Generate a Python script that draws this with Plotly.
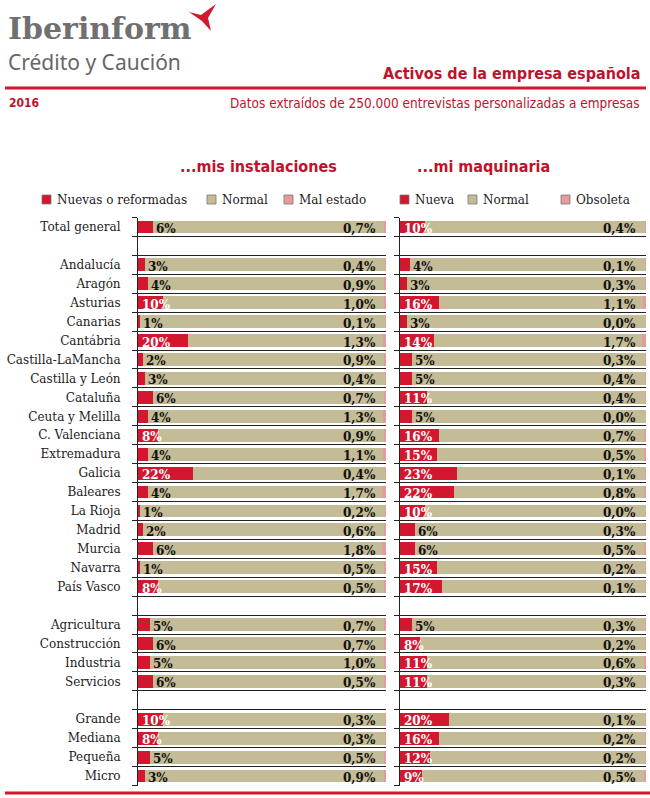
import plotly.graph_objects as go

# ---------------- data ----------------
rows = ["Total general", "",
        "Andalucía", "Aragón", "Asturias", "Canarias", "Cantábria", "Castilla-LaMancha",
        "Castilla y León", "Cataluña", "Ceuta y Melilla", "C. Valenciana", "Extremadura",
        "Galicia", "Baleares", "La Rioja", "Madrid", "Murcia", "Navarra", "País Vasco", "",
        "Agricultura", "Construcción", "Industria", "Servicios", "",
        "Grande", "Mediana", "Pequeña", "Micro"]

inst_nuevas = [6, None,
               3, 4, 10, 1, 20, 2, 3, 6, 4, 8, 4, 22, 4, 1, 2, 6, 1, 8, None,
               5, 6, 5, 6, None,
               10, 8, 5, 3]
inst_mal = [0.7, None,
            0.4, 0.9, 1.0, 0.1, 1.3, 0.9, 0.4, 0.7, 1.3, 0.9, 1.1, 0.4, 1.7, 0.2, 0.6, 1.8, 0.5, 0.5, None,
            0.7, 0.7, 1.0, 0.5, None,
            0.3, 0.3, 0.5, 0.9]

maq_nueva = [10, None,
             4, 3, 16, 3, 14, 5, 5, 11, 5, 16, 15, 23, 22, 10, 6, 6, 15, 17, None,
             5, 8, 11, 11, None,
             20, 16, 12, 9]
maq_obsoleta = [0.4, None,
                0.1, 0.3, 1.1, 0.0, 1.7, 0.3, 0.4, 0.4, 0.0, 0.7, 0.5, 0.1, 0.8, 0.0, 0.3, 0.5, 0.2, 0.1, None,
                0.3, 0.2, 0.6, 0.3, None,
                0.1, 0.2, 0.2, 0.5]

legend_inst = ["Nuevas o reformadas", "Normal", "Mal estado"]
legend_maq = ["Nueva", "Normal", "Obsoleta"]

# ---------------- style ----------------
W, H = 650, 798
RED = "#D2172F"
TAN = "#C4BC96"
PINK = "#E69A9A"
TITLE_RED = "#C0122B"
SLAB = "DejaVu Serif"
COND = "DejaVu Sans Condensed, Liberation Sans Narrow, sans-serif"


def px_x(px):
    return px / W


def px_y(py):
    return 1 - py / H


def normal(nv, bv):
    return [None if a is None else 100 - a - b for a, b in zip(nv, bv)]


idx = list(range(len(rows)))
fig = go.Figure()

panels = [
    (inst_nuevas, inst_mal, legend_inst, "x", "y"),
    (maq_nueva, maq_obsoleta, legend_maq, "x2", "y2"),
]
for nv, bv, names, xa, ya in panels:
    nm = normal(nv, bv)
    for vals, col, name in zip([nv, nm, bv], [RED, TAN, PINK], names):
        fig.add_trace(go.Bar(
            y=idx, x=vals, orientation="h", marker=dict(color=col, line=dict(width=0)),
            name=name, width=0.68, xaxis=xa, yaxis=ya, showlegend=False,
            hoverinfo="skip"))

annotations = []
for nv, bv, names, xa, ya in panels:
    for i, (a, b) in enumerate(zip(nv, bv)):
        if a is None:
            continue
        big = a >= 8
        annotations.append(dict(
            x=0 if big else a, y=i, xref=xa, yref=ya, text=f"<b>{a}%</b>",
            xanchor="left", yanchor="middle", xshift=2 if big else 1, yshift=-2,
            showarrow=False,
            font=dict(family=SLAB, size=12, color="white" if big else "#111")))
        annotations.append(dict(
            x=100, y=i, xref=xa, yref=ya,
            text="<b>" + f"{b:.1f}%".replace(".", ",") + "</b>",
            xanchor="right", yanchor="middle", xshift=-8, yshift=-2, showarrow=False,
            font=dict(family=SLAB, size=12, color="#111")))

# header texts
annotations += [
    dict(x=px_x(6), y=px_y(29), xref="paper", yref="paper", text="<b>Iberinform</b>",
         xanchor="left", yanchor="middle", showarrow=False,
         font=dict(family=SLAB, size=30, color="#707070")),
    dict(x=px_x(6), y=px_y(62), xref="paper", yref="paper", text="Crédito y Caución",
         xanchor="left", yanchor="middle", showarrow=False,
         font=dict(family="Noto Sans", size=21, color="#666666")),
    dict(x=px_x(642), y=px_y(74), xref="paper", yref="paper",
         text="<b>Activos de la empresa española</b>",
         xanchor="right", yanchor="middle", showarrow=False,
         font=dict(family=COND, size=16, color=TITLE_RED)),
    dict(x=px_x(7), y=px_y(103), xref="paper", yref="paper", text="<b>2016</b>",
         xanchor="left", yanchor="middle", showarrow=False,
         font=dict(family=COND, size=12, color=TITLE_RED)),
    dict(x=px_x(642), y=px_y(103), xref="paper", yref="paper",
         text="Datos extraídos de 250.000 entrevistas personalizadas a empresas",
         xanchor="right", yanchor="middle", showarrow=False,
         font=dict(family=COND, size=13.5, color=TITLE_RED)),
    dict(x=px_x(258), y=px_y(166), xref="paper", yref="paper",
         text="<b>...mis instalaciones</b>",
         xanchor="center", yanchor="middle", showarrow=False,
         font=dict(family=COND, size=16, color=TITLE_RED)),
    dict(x=px_x(484), y=px_y(166), xref="paper", yref="paper",
         text="<b>...mi maquinaria</b>",
         xanchor="center", yanchor="middle", showarrow=False,
         font=dict(family=COND, size=16, color=TITLE_RED)),
]

shapes = []
# legends (manual, two rows of keys)
leg_items = [
    (legend_inst, [42, 207, 284]),
    (legend_maq, [400, 468, 561]),
]
for names, xs in leg_items:
    for name, col, x0 in zip(names, [RED, TAN, PINK], xs):
        shapes.append(dict(type="rect", xref="paper", yref="paper",
                           x0=px_x(x0), x1=px_x(x0 + 9), y0=px_y(204), y1=px_y(195),
                           fillcolor=col, line=dict(color="#777", width=0.8)))
        annotations.append(dict(x=px_x(x0 + 13), y=px_y(200), xref="paper", yref="paper",
                                text=name, xanchor="left", yanchor="middle", showarrow=False,
                                font=dict(family=SLAB, size=12, color="#222")))

# red rules
shapes.append(dict(type="line", xref="paper", yref="paper", x0=px_x(5), x1=px_x(646),
                   y0=px_y(88), y1=px_y(88), line=dict(color=RED, width=3)))
shapes.append(dict(type="line", xref="paper", yref="paper", x0=px_x(5), x1=px_x(650),
                   y0=px_y(793), y1=px_y(793), line=dict(color=RED, width=3)))
# logo mark
shapes.append(dict(type="path", xref="paper", yref="paper",
                   path=(f"M {px_x(189)} {px_y(12)} L {px_x(201)} {px_y(15)} "
                         f"L {px_x(216)} {px_y(4)} L {px_x(208)} {px_y(18)} "
                         f"L {px_x(211)} {px_y(31)} L {px_x(202)} {px_y(21)} Z"),
                   fillcolor=RED, line=dict(width=0)))

yd = [px_y(785.5), px_y(217.5)]
minor_vals = [i - 0.5 for i in range(len(rows) + 1)]
yaxis_common = dict(
    domain=yd, range=[len(rows) - 0.5, -0.5], tickmode="array", tickvals=idx,
    showgrid=False, zeroline=False, ticks="", showline=True, linecolor="#222", linewidth=1,
    minor=dict(tickvals=minor_vals, ticks="outside", ticklen=5, tickcolor="#222", tickwidth=1.3,
               showgrid=True, gridcolor="#222", gridwidth=1.3),
    fixedrange=True)

fig.update_layout(
    width=W, height=H, margin=dict(l=0, r=0, t=0, b=0),
    paper_bgcolor="white", plot_bgcolor="white",
    barmode="stack", showlegend=False,
    xaxis=dict(domain=[px_x(138), px_x(386)], range=[0, 100], visible=False),
    xaxis2=dict(domain=[px_x(400), px_x(646)], range=[0, 100], visible=False),
    yaxis=dict(**yaxis_common, ticktext=rows, ticklabelstandoff=14,
               tickfont=dict(family=SLAB, size=12, color="#222"), anchor="x"),
    yaxis2=dict(**yaxis_common, showticklabels=False, anchor="x2"),
    annotations=annotations, shapes=shapes,
)

fig.write_html("out.html", config={"displayModeBar": False},
               post_script="document.body.style.margin='0';")
